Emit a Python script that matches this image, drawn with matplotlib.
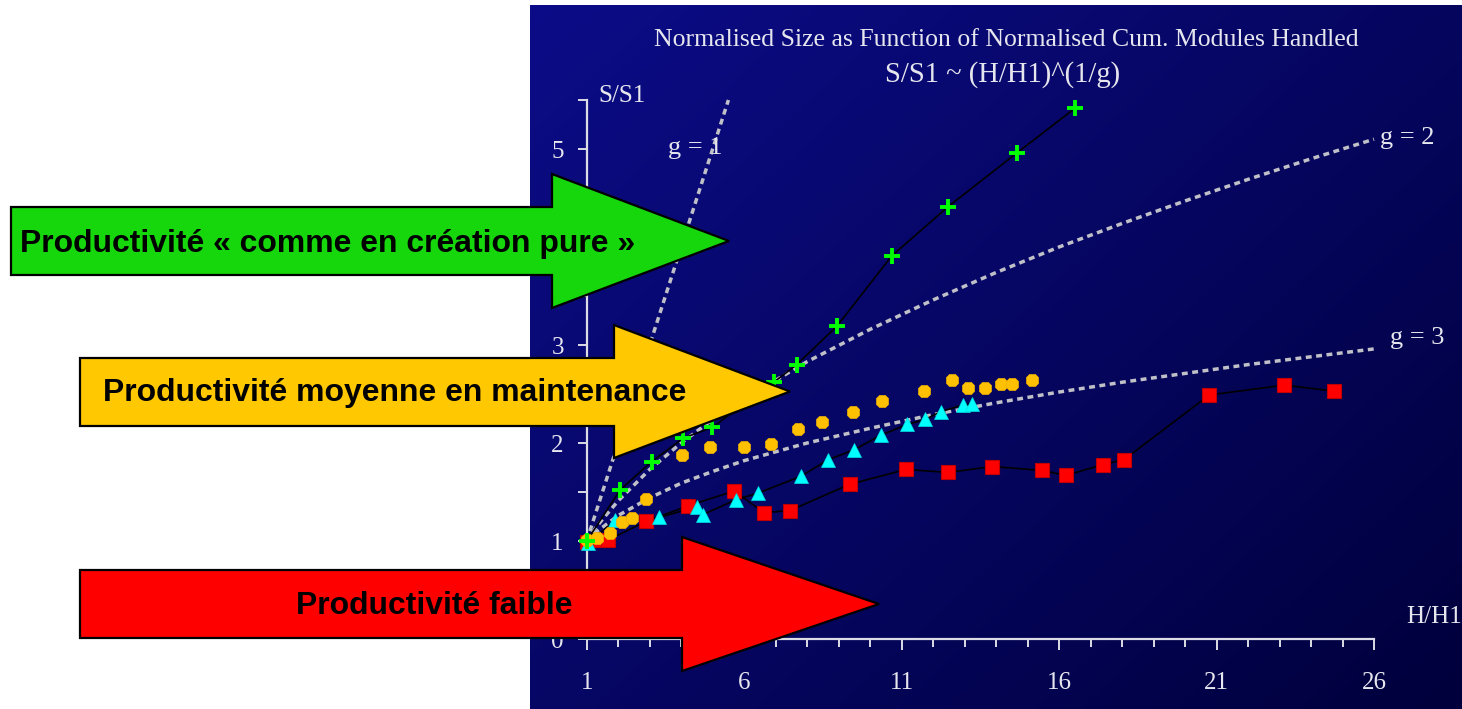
import numpy as np
import matplotlib
matplotlib.use("Agg")
import matplotlib.pyplot as plt
from matplotlib.patches import Polygon
from matplotlib.ticker import MultipleLocator, FixedLocator, FuncFormatter

# ---------------- data ----------------
green_x = [1.0, 2.06, 3.06, 4.07, 4.99, 6.94, 7.67, 8.94, 10.69, 12.47, 14.66, 16.52]
green_y = [1.0, 1.52, 1.81, 2.05, 2.16, 2.62, 2.80, 3.19, 3.91, 4.41, 4.96, 5.42]

yellow_x = [1.0, 1.32, 1.74, 2.11, 2.43, 2.88, 4.03, 4.91, 5.99, 6.85, 7.72, 8.48,
            9.46, 10.38, 11.72, 12.61, 13.10, 13.64, 14.17, 14.49, 15.13]
yellow_y = [1.01, 1.03, 1.08, 1.19, 1.23, 1.43, 1.88, 1.96, 1.96, 1.99, 2.14, 2.21,
            2.32, 2.43, 2.53, 2.64, 2.56, 2.56, 2.60, 2.60, 2.64]

cyan_x = [1.05, 1.90, 3.30, 4.50, 4.69, 5.73, 6.45, 7.80, 8.67, 9.49, 10.34, 11.18,
          11.74, 12.25, 12.96, 13.22]
cyan_y = [0.98, 1.21, 1.24, 1.35, 1.27, 1.42, 1.49, 1.66, 1.83, 1.93, 2.08, 2.19,
          2.24, 2.32, 2.39, 2.40]

red_x = [1.0, 1.42, 1.68, 2.88, 4.23, 5.68, 6.63, 7.45, 9.36, 11.14, 12.48, 13.88,
         15.46, 16.22, 17.40, 18.06, 20.77, 23.15, 24.73]
red_y = [0.99, 1.01, 1.01, 1.20, 1.36, 1.51, 1.29, 1.31, 1.58, 1.73, 1.70, 1.76,
         1.72, 1.67, 1.78, 1.83, 2.49, 2.59, 2.53]

# reference curves S/S1 ~ (H/H1)^(1/g)
g1_x = [1.0, 1.5, 2.0, 3.0, 4.0, 5.0, 5.5]
g1_y = [1.0, 1.5, 2.0, 3.0, 4.0, 5.0, 5.5]
g_x = [1.0, 1.25, 1.5, 2.0, 3.0, 4.0, 5.0, 6.0, 8.0, 10.0, 12.0, 14.0, 16.0, 18.0,
       20.0, 22.0, 24.0, 26.0]
g2_y = [1.0, 1.12, 1.22, 1.41, 1.73, 2.0, 2.24, 2.45, 2.83, 3.16, 3.46, 3.74, 4.0,
        4.24, 4.47, 4.69, 4.90, 5.10]
g3_y = [1.0, 1.08, 1.14, 1.26, 1.44, 1.59, 1.71, 1.82, 2.0, 2.15, 2.29, 2.41, 2.52,
        2.62, 2.71, 2.80, 2.88, 2.96]

x_major = [1, 6, 11, 16, 21, 26]
y_labels = [0, 1, 2, 3, 5]   # the "4" is hidden behind the green arrow

title1 = "Normalised Size as Function of Normalised Cum. Modules Handled"
title2 = "S/S1 ~ (H/H1)^(1/g)"
arrow_texts = ["Productivité « comme en création pure »",
               "Productivité moyenne en maintenance",
               "Productivité faible"]

# ---------------- figure ----------------
W, H = 1462, 709
fig = plt.figure(figsize=(W / 100, H / 100), dpi=100)
fig.patch.set_facecolor("white")

SERIF = ["Liberation Serif", "DejaVu Serif"]
NARROW = ["Liberation Sans Narrow", "Liberation Sans", "DejaVu Sans"]
TXT = "#e6e6ee"

# background gradient (chart panel)
bg = fig.add_axes([0, 0, 1, 1], zorder=0)
bg.set_xlim(0, W)
bg.set_ylim(H, 0)
bg.axis("off")
nx, ny = 200, 100
u = np.linspace(0, 1, nx)[None, :]
v = np.linspace(0, 1, ny)[:, None]
t = np.clip(0.55 * u + 0.45 * v, 0, 1)
c0 = np.array([12, 12, 136]) / 255.0
c1 = np.array([0, 0, 60]) / 255.0
img = c0[None, None, :] * (1 - t[..., None]) + c1[None, None, :] * t[..., None]
bg.imshow(img, extent=(530, W, H, 5), aspect="auto", interpolation="bilinear")

# main chart axes
L, R, T, B = 586.7, 1374.0, 100.0, 639.0
ax = fig.add_axes([L / W, (H - B) / H, (R - L) / W, (B - T) / H], zorder=1)
ax.set_facecolor("none")
ax.set_xlim(1, 26)
ax.set_ylim(0, 5.5)
for s in ["top", "right"]:
    ax.spines[s].set_visible(False)
for s in ["left", "bottom"]:
    ax.spines[s].set_color("#dcdce6")
    ax.spines[s].set_linewidth(1.6)

ax.xaxis.set_major_locator(FixedLocator(x_major))
ax.xaxis.set_minor_locator(MultipleLocator(1))
ax.yaxis.set_major_locator(MultipleLocator(0.5))
ax.yaxis.set_major_formatter(FuncFormatter(
    lambda val, pos: (str(int(round(val))) if abs(val - round(val)) < 1e-6
                      and int(round(val)) in y_labels else "")))
ax.tick_params(axis="x", which="major", direction="out", length=8, width=1.4,
               colors="#dcdce6", pad=16, labelsize=18, labelcolor=TXT)
ax.tick_params(axis="x", which="minor", direction="out", length=6, width=1.4,
               colors="#dcdce6")
ax.tick_params(axis="y", which="major", direction="out", length=6.5, width=1.4,
               colors="#dcdce6", pad=10, labelsize=18, labelcolor=TXT)
for lab in ax.get_xticklabels() + ax.get_yticklabels():
    lab.set_family(SERIF)

# reference curves
dot = dict(color="#c0c0c8", lw=2.5, linestyle=(0, (1.7, 1.3)), zorder=2,
           clip_on=False, solid_capstyle="butt")
ax.plot(g1_x, g1_y, **dot)
ax.plot(g_x, g2_y, **dot)
ax.plot(g_x, g3_y, **dot)

# series
ax.plot(red_x, red_y, color="black", lw=1.2, zorder=3)
ax.plot(red_x, red_y, ls="none", marker="s", ms=9.5, mfc="#ff0000", mec="#c00000",
        mew=0.8, zorder=4, clip_on=False)
ax.plot(cyan_x, cyan_y, color="black", lw=1.2, zorder=3)
ax.plot(cyan_x, cyan_y, ls="none", marker="^", ms=10.5, mfc="#00ffff", mec="#00e0e0",
        mew=0.5, zorder=4, clip_on=False)
ax.plot(yellow_x, yellow_y, ls="none", marker="8", ms=9.5, mfc="#ffc000", mec="#f0b000",
        mew=0.5, zorder=5, clip_on=False)
ax.plot(green_x, green_y, color="black", lw=1.2, zorder=3)
ax.plot(green_x, green_y, ls="none", marker="+", ms=12, mec="#00ff00", mew=2.8,
        zorder=6, clip_on=False)

# overlay in pixel coordinates
ov = fig.add_axes([0, 0, 1, 1], zorder=3)
ov.set_xlim(0, W)
ov.set_ylim(H, 0)
ov.axis("off")
ov.set_facecolor("none")

t1 = ov.text(1006, 40, title1, ha="center", va="center", color=TXT, family=SERIF,
             fontsize=18, zorder=1)
t2 = ov.text(1003, 75, title2, ha="center", va="center", color=TXT, family=SERIF,
             fontsize=18, zorder=1)
ov.text(598, 96, "S/S1", ha="left", va="center", color=TXT, family=SERIF,
        fontsize=18, zorder=1)
ov.text(1406, 617, "H/H1", ha="left", va="center", color=TXT, family=SERIF,
        fontsize=18, zorder=1)
ov.text(668, 148, "g = 1", ha="left", va="center", color=TXT, family=SERIF,
        fontsize=19, zorder=1)
ov.text(1380, 138, "g = 2", ha="left", va="center", color=TXT, family=SERIF,
        fontsize=19, zorder=1)
ov.text(1390, 338, "g = 3", ha="left", va="center", color=TXT, family=SERIF,
        fontsize=19, zorder=1)


def arrow(x0, y_top, y_bot, xh, yh_top, yh_bot, xtip, color):
    ymid = (yh_top + yh_bot) / 2
    pts = [(x0, y_top), (xh, y_top), (xh, yh_top), (xtip, ymid),
           (xh, yh_bot), (xh, y_bot), (x0, y_bot)]
    ov.add_patch(Polygon(pts, closed=True, facecolor=color, edgecolor="black",
                         lw=1.6, joinstyle="miter", zorder=10))


arrow(11, 207, 275, 552, 174, 308, 729, "#16d60c")
arrow(80, 358, 426, 614, 325, 458, 790, "#ffc800")
arrow(80, 570, 638, 682, 537, 671, 879, "#ff0000")

a1 = ov.text(20, 244, arrow_texts[0], ha="left", va="center", family=NARROW,
             weight="bold", fontsize=20, color="black", zorder=11)
a2 = ov.text(103, 393, arrow_texts[1], ha="left", va="center", family=NARROW,
             weight="bold", fontsize=20, color="black", zorder=11)
a3 = ov.text(434, 606, arrow_texts[2], ha="center", va="center", family=NARROW,
             weight="bold", fontsize=20, color="black", zorder=11)

# fit widths of the texts to the reference
renderer = fig.canvas.get_renderer()
for txt, target in [(a1, 615), (a2, 582), (a3, 276), (t1, 706), (t2, 236)]:
    w = txt.get_window_extent(renderer).width
    txt.set_fontsize(txt.get_fontsize() * target / w)

fig.savefig("out.png", dpi=100, facecolor="white")
